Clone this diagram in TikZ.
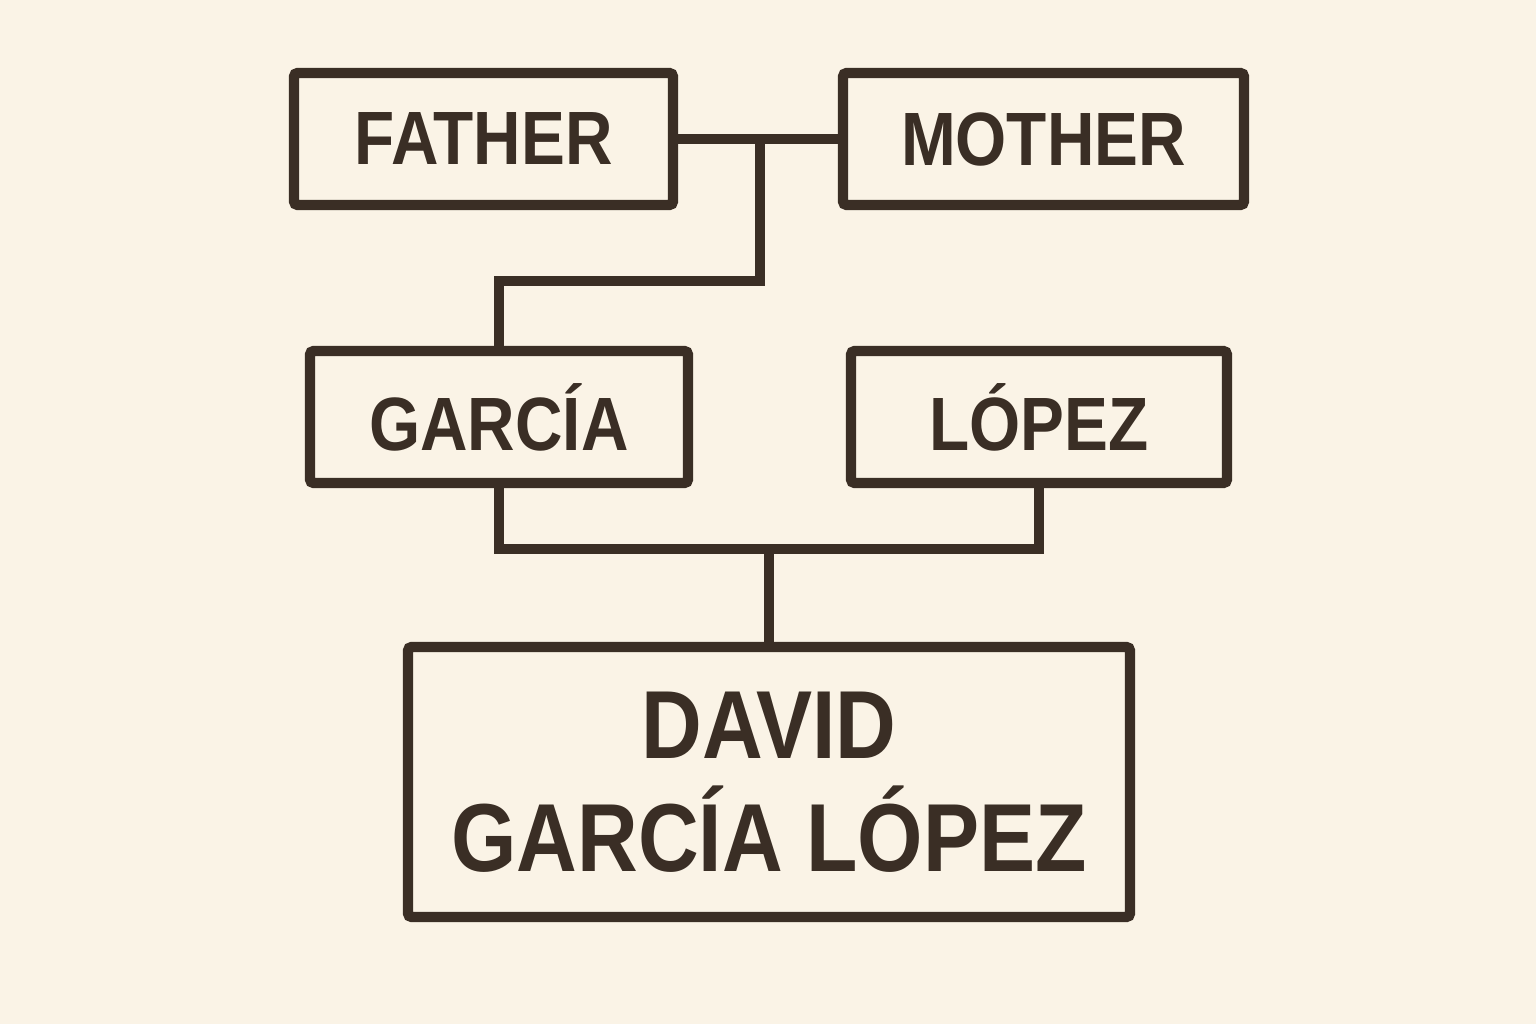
\documentclass[tikz,border=0pt]{standalone}
\usepackage{fontspec}
\setmainfont{Liberation Sans}[FakeStretch=0.87]
\definecolor{paper}{HTML}{FAF3E6}
\definecolor{ink}{HTML}{3A2E25}
\begin{document}
\begin{tikzpicture}[
    person/.style={draw=ink, rectangle, line width=2.9pt, rounded corners=1pt, text=ink, inner sep=0pt,
        minimum height=1.32cm, font=\fontsize{21.5}{25}\selectfont\bfseries},
    link/.style={draw=ink, line width=2.9pt}
]
    \fill[paper] (0,0) rectangle (15.36,10.24);
    \useasboundingbox (0,0) rectangle (15.36,10.24);

    \node[person, minimum width=3.79cm] (father) at (4.835,8.85) {FATHER};
    \node[person, minimum width=4.01cm] (mother) at (10.435,8.85) {MOTHER};
    \node[person, minimum width=3.78cm] (garcia) at (4.99,6.07) {GARCÍA};
    \node[person, minimum width=3.76cm] (lopez) at (10.39,6.07) {LÓPEZ};
    \node[person, minimum width=7.22cm, minimum height=2.70cm, align=center,
        font=\fontsize{27.5}{32}\selectfont\bfseries] (david) at (7.69,2.42) {DAVID\\GARCÍA LÓPEZ};

    \coordinate (top) at (7.60,8.85);
    \coordinate (bend) at (7.60,7.43);
    \coordinate (bar) at (7.69,4.75);

    \draw[link] (father) -- (mother);
    \draw[link] (top) -- (bend) -| (garcia.north);
    \draw[link] (garcia.south) |- (bar) -| (lopez.south);
    \draw[link] (bar) -- (david.north);
\end{tikzpicture}
\end{document}
